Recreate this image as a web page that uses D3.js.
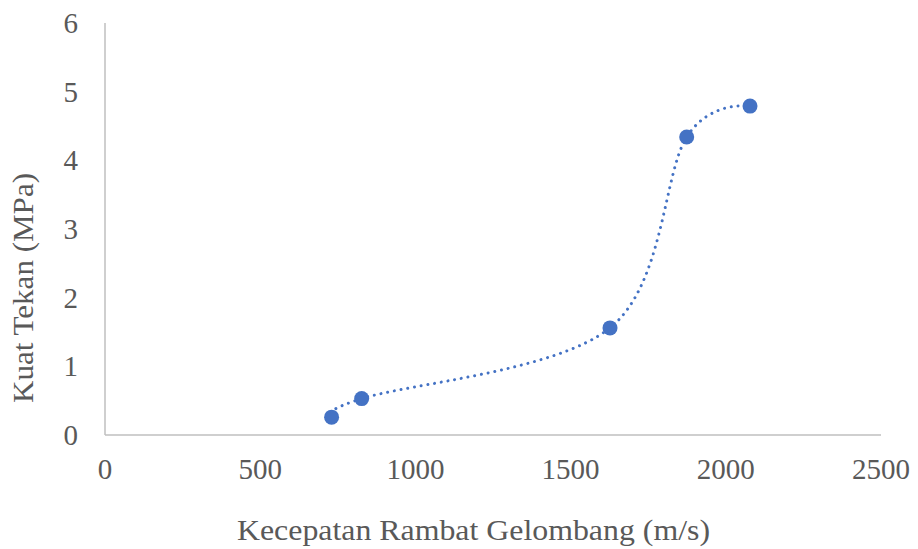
<!DOCTYPE html>
<html><head><meta charset="utf-8">
<script src="https://cdn.jsdelivr.net/npm/d3@7"></script>
<style>body{margin:0;background:#fff}svg{display:block}</style>
</head><body>
<svg id="c" width="918" height="549"></svg>
<script>
const xValues = [730, 827, 1627, 1874, 2078];
const yValues = [0.26, 0.53, 1.56, 4.34, 4.79];
const xTicks = [0, 500, 1000, 1500, 2000, 2500];
const yTicks = [0, 1, 2, 3, 4, 5, 6];
const xTitle = "Kecepatan Rambat Gelombang (m/s)";
const yTitle = "Kuat Tekan (MPa)";

(function () {
const svg = d3.select("#c");
const pL = 105, pR = 881, pT = 23, pB = 435;
const x = d3.scaleLinear().domain([0, 2500]).range([pL, pR]);
const y = d3.scaleLinear().domain([0, 6]).range([pB, pT]);
const font = "'Liberation Serif', 'Times New Roman', serif";
const txt = "#595959";

svg.append("line").attr("x1", pL).attr("x2", pL).attr("y1", pT).attr("y2", pB)
  .attr("stroke", "#bfbfbf").attr("stroke-width", 1.5);
svg.append("line").attr("x1", pL).attr("x2", pR).attr("y1", pB).attr("y2", pB)
  .attr("stroke", "#bfbfbf").attr("stroke-width", 1.5);

svg.selectAll(".xt").data(xTicks).enter().append("text")
  .attr("x", d => x(d)).attr("y", 479).attr("text-anchor", "middle")
  .attr("font-family", font).attr("font-size", 29).attr("fill", txt).text(d => d);
svg.selectAll(".yt").data(yTicks).enter().append("text")
  .attr("x", 78).attr("y", d => y(d) + 10).attr("text-anchor", "end")
  .attr("font-family", font).attr("font-size", 29).attr("fill", txt).text(d => d);

svg.append("text").attr("x", 237).attr("y", 540)
  .attr("textLength", 473).attr("lengthAdjust", "spacingAndGlyphs")
  .attr("font-family", font).attr("font-size", 30).attr("fill", txt).text(xTitle);
svg.append("text").attr("transform", `translate(33,403) rotate(-90)`)
  .attr("textLength", 230).attr("lengthAdjust", "spacingAndGlyphs")
  .attr("font-family", font).attr("font-size", 30).attr("fill", txt).text(yTitle);

const pts = xValues.map((v, i) => [v, yValues[i]]);
const line = d3.line().x(d => x(d[0])).y(d => y(d[1])).curve(d3.curveCatmullRom.alpha(0));
svg.append("path").attr("d", line(pts)).attr("fill", "none")
  .attr("stroke", "#4472C4").attr("stroke-width", 3)
  .attr("stroke-linecap", "round").attr("stroke-dasharray", "0.01 6.8");

svg.selectAll(".pt").data(pts).enter().append("circle")
  .attr("cx", d => x(d[0])).attr("cy", d => y(d[1])).attr("r", 7.5).attr("fill", "#4472C4");
})();
</script>
</body></html>
